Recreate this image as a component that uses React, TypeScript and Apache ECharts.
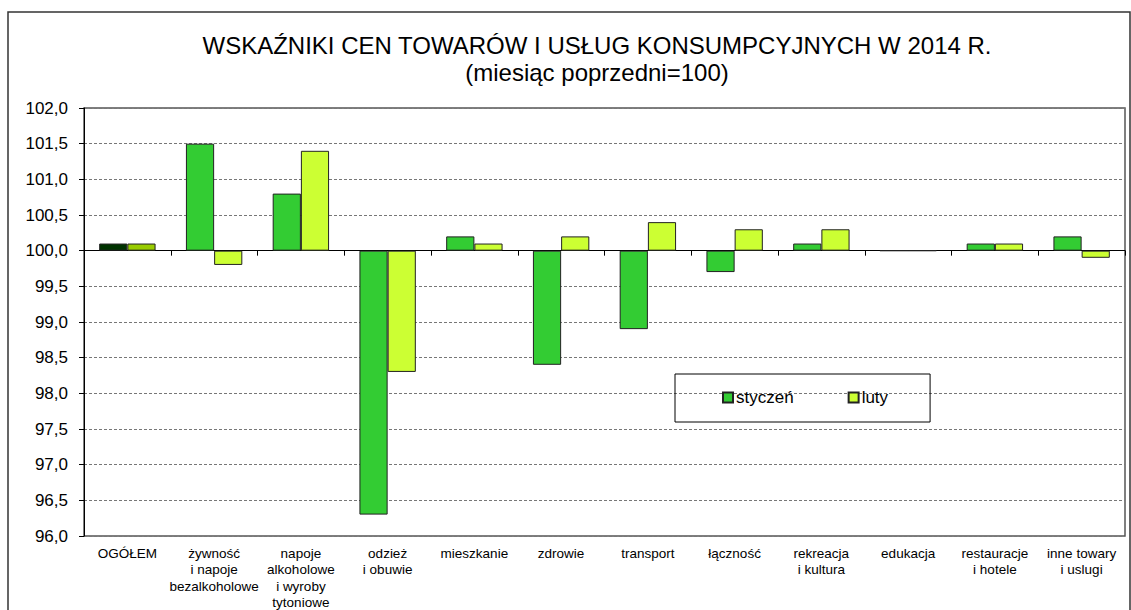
import React, { useEffect, useRef } from "react";
import * as echarts from "echarts";

const categories = [
  "OGÓŁEM",
  "żywność\ni napoje\nbezalkoholowe",
  "napoje\nalkoholowe\ni wyroby\ntytoniowe",
  "odzież\ni obuwie",
  "mieszkanie",
  "zdrowie",
  "transport",
  "łączność",
  "rekreacja\ni kultura",
  "edukacja",
  "restauracje\ni hotele",
  "inne towary\ni uslugi",
];
const styczen = [100.1, 101.5, 100.8, 96.3, 100.2, 98.4, 98.9, 99.7, 100.1, 100.0, 100.1, 100.2];
const luty = [100.1, 99.8, 101.4, 98.3, 100.1, 100.2, 100.4, 100.3, 100.3, 100.0, 100.1, 99.9];
const BASE = 100;
const titleText = "WSKAŹNIKI CEN TOWARÓW I USŁUG KONSUMPCYJNYCH W 2014 R.";
const subtitleText = "(miesiąc poprzedni=100)";

const FONT = "'Liberation Sans', Arial, sans-serif";
const off = (v: number) => Math.round((v - BASE) * 10) / 10;

export default function App() {
  const ref = useRef<HTMLDivElement>(null);
  useEffect(() => {
    if (!ref.current) return;
    const chart = echarts.init(ref.current, undefined, { renderer: "svg" });
    const janData = styczen.map((v, i) =>
      i === 0 ? { value: off(v), itemStyle: { color: "#003300" } } : off(v)
    );
    const febData = luty.map((v, i) =>
      i === 0 ? { value: off(v), itemStyle: { color: "#99CC00" } } : off(v)
    );
    chart.setOption({
      animation: false,
      textStyle: { fontFamily: FONT },
      title: {
        text: titleText,
        subtext: subtitleText,
        left: 592,
        top: 28,
        textAlign: "center",
        itemGap: 3,
        textStyle: { fontSize: 24, fontWeight: "normal", color: "#000", fontFamily: FONT },
        subtextStyle: { fontSize: 24, color: "#000", fontFamily: FONT },
      },
      graphic: [
        {
          type: "rect",
          shape: { x: 8, y: 12, width: 1122, height: 620 },
          style: { fill: "none", stroke: "#333", lineWidth: 1.5 },
          silent: true,
        },
      ],
      legend: {
        left: 675,
        top: 374,
        orient: "horizontal",
        borderColor: "#000",
        borderWidth: 1,
        padding: [15, 42, 16, 47],
        itemWidth: 10,
        itemHeight: 10,
        itemGap: 54,
        icon: "rect",
        textStyle: { fontSize: 17, color: "#000", fontFamily: FONT, padding: [0, 0, 0, -2] },
        data: ["styczeń", "luty"],
      },
      grid: {
        left: 84,
        top: 108,
        right: 6,
        bottom: 74,
        show: true,
        borderColor: "#555",
        borderWidth: 1.5,
        containLabel: false,
        outerBoundsMode: "none",
      },
      xAxis: {
        type: "category",
        data: categories,
        axisLine: { onZero: true, lineStyle: { color: "#000", width: 1 } },
        axisTick: { show: true, length: 5, lineStyle: { color: "#000" } },
        axisLabel: {
          margin: 9,
          interval: 0,
          fontSize: 13.5,
          lineHeight: 16.5,
          color: "#000",
          fontFamily: FONT,
        },
      },
      yAxis: {
        type: "value",
        min: -4,
        max: 2,
        interval: 0.5,
        axisLine: { show: true, lineStyle: { color: "#000", width: 1 } },
        axisTick: { show: true, length: 5, lineStyle: { color: "#000" } },
        axisLabel: {
          margin: 16,
          fontSize: 17,
          color: "#000",
          fontFamily: FONT,
          formatter: (v: number) => (v + BASE).toFixed(1).replace(".", ","),
        },
        splitLine: { show: true, lineStyle: { color: "#777", type: [3, 2], width: 1 } },
      },
      series: [
        {
          name: "styczeń",
          type: "bar",
          data: janData,
          barGap: "0%",
          barCategoryGap: "35%",
          itemStyle: { color: "#33CC33", borderColor: "#222", borderWidth: 1 },
        },
        {
          name: "luty",
          type: "bar",
          data: febData,
          itemStyle: { color: "#CCFF33", borderColor: "#222", borderWidth: 1 },
        },
      ],
    });
    return () => chart.dispose();
  }, []);
  return (
    <div
      ref={ref}
      style={{ position: "fixed", left: 0, top: 0, width: 1131, height: 610, background: "#fff" }}
    />
  );
}
